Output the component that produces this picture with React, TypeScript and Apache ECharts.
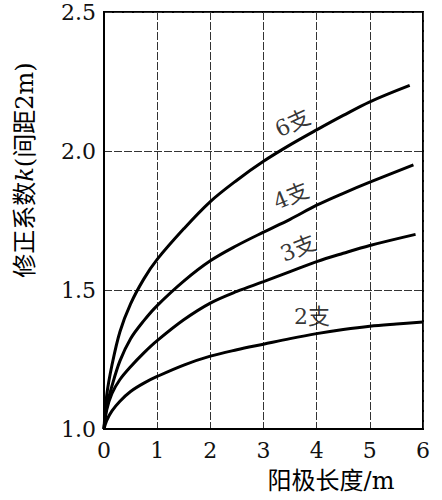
import { useEffect, useRef } from 'react'
import * as echarts from 'echarts'

// anode length (m) and correction factor k
const len6 = [0, 0.05, 0.15, 0.3, 0.5, 0.75, 1, 1.5, 2, 2.5, 3, 3.5, 4, 4.5, 5, 5.75]
const k6 = [1, 1.12, 1.23, 1.35, 1.45, 1.54, 1.61, 1.72, 1.818, 1.895, 1.963, 2.022, 2.076, 2.128, 2.177, 2.236]

const len4 = [0, 0.05, 0.15, 0.3, 0.5, 0.75, 1, 1.5, 2, 2.5, 3, 3.5, 4, 4.5, 5, 5.82]
const k4 = [1, 1.08, 1.155, 1.245, 1.325, 1.39, 1.444, 1.532, 1.605, 1.66, 1.708, 1.754, 1.805, 1.848, 1.888, 1.95]

const len3 = [0, 0.05, 0.15, 0.3, 0.5, 0.75, 1, 1.5, 2, 2.5, 3, 3.5, 4, 4.5, 5, 5.86]
const k3 = [1, 1.068, 1.128, 1.178, 1.224, 1.274, 1.318, 1.393, 1.453, 1.495, 1.53, 1.566, 1.602, 1.632, 1.66, 1.7]

const len2 = [0, 0.05, 0.15, 0.3, 0.5, 0.75, 1, 1.5, 2, 2.5, 3, 3.5, 4, 4.5, 5, 5.5, 6]
const k2 = [1, 1.03, 1.065, 1.1, 1.135, 1.165, 1.189, 1.23, 1.262, 1.285, 1.305, 1.325, 1.343, 1.358, 1.37, 1.378, 1.385]

const curveNames = ['6支', '4支', '3支', '2支']
// where each curve's label sits (data coords) and its tilt
const labelX = [3.55, 3.52, 3.65, 3.91]
const labelK = [2.1, 1.838, 1.65, 1.404]
const labelRot = [25, 22, 22, 0]

const yTicks = [1.0, 1.5, 2.0, 2.5]

const serif = "'DejaVu Serif', 'Noto Sans CJK SC', serif"

export default function App() {
  const chartRef = useRef<HTMLDivElement>(null)

  useEffect(() => {
    if (!chartRef.current) return
    const chart = echarts.init(chartRef.current, undefined, { renderer: 'svg' })

    const curves = [
      [len6, k6],
      [len4, k4],
      [len3, k3],
      [len2, k2]
    ]

    const lineSeries = curves.map(([xs, ks], i) => ({
      name: curveNames[i],
      type: 'line',
      smooth: 0.35,
      symbol: 'none',
      lineStyle: { color: '#000', width: 3 },
      data: xs.map((x, j) => [x, ks[j]])
    }))

    const labelSeries = {
      name: 'labels',
      type: 'scatter',
      symbolSize: 0,
      silent: true,
      z: 5,
      data: curveNames.map((n, i) => ({
        value: [labelX[i], labelK[i]],
        label: {
          show: true,
          position: 'inside',
          formatter: n,
          rotate: labelRot[i],
          color: '#000',
          fontSize: 22,
          fontFamily: serif
        }
      }))
    }

    const gridLine = { lineStyle: { color: '#333', width: 1, type: [8, 2] } }

    const option = {
      animation: false,
      backgroundColor: '#fff',
      grid: {
        left: 104,
        right: 19,
        top: 12,
        bottom: 71,
        show: true,
        borderColor: '#000',
        borderWidth: 2
      },
      xAxis: {
        type: 'value',
        min: 0,
        max: 6,
        interval: 1,
        axisLine: { show: true, lineStyle: { color: '#000', width: 2 } },
        axisTick: { show: false },
        axisLabel: { color: '#111', fontSize: 22, fontFamily: serif, margin: 10 },
        splitLine: { show: true, ...gridLine }
      },
      yAxis: {
        type: 'value',
        min: yTicks[0],
        max: yTicks[yTicks.length - 1],
        interval: 0.5,
        axisLine: { show: true, lineStyle: { color: '#000', width: 2 } },
        axisTick: { show: false },
        axisLabel: {
          color: '#111',
          fontSize: 22,
          fontFamily: serif,
          margin: 8,
          formatter: (v: number) => v.toFixed(1)
        },
        splitLine: { show: true, ...gridLine }
      },
      graphic: [
        {
          type: 'text',
          x: 25,
          y: 170,
          rotation: Math.PI / 2,
          style: {
            text: '修正系数{i|k}(间距2m)',
            fontSize: 24,
            fontFamily: serif,
            fill: '#000',
            align: 'center',
            verticalAlign: 'middle',
            rich: {
              i: { fontStyle: 'italic', fontSize: 24, fontFamily: serif }
            }
          }
        },
        {
          type: 'text',
          x: 331,
          y: 481,
          style: {
            text: '阳极长度/m',
            fontSize: 24,
            fontFamily: serif,
            fill: '#000',
            align: 'center',
            verticalAlign: 'middle'
          }
        }
      ],
      series: [...lineSeries, labelSeries]
    }

    chart.setOption(option)

    return () => {
      chart.dispose()
    }
  }, [])

  return (
    <div
      ref={chartRef}
      style={{ position: 'absolute', left: 0, top: 0, width: 442, height: 500 }}
    />
  )
}
